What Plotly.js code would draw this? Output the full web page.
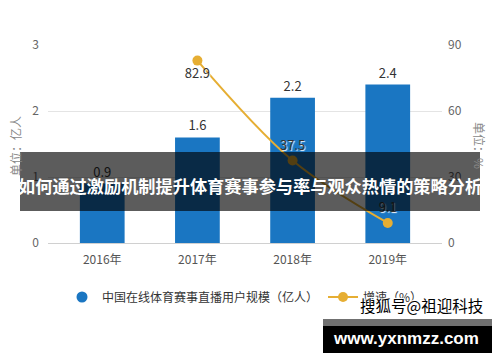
<!DOCTYPE html>
<html>
<head>
<meta charset="utf-8">
<script src="https://cdn.plot.ly/plotly-3.0.1.min.js"></script>
<style>html,body{margin:0;padding:0;background:#fff;}#chart{width:500px;height:362px;}</style>
</head>
<body>
<div id="chart"></div>
<script>
// ---- data ----
var categories = ['2016年', '2017年', '2018年', '2019年'];
var userScale = [0.9, 1.6, 2.2, 2.4];            // 中国在线体育赛事直播用户规模（亿人）
var growthCategories = ['2017年', '2018年', '2019年'];
var growthRate = [82.9, 37.5, 9.1];              // 增速（%）
var seriesNames = ['中国在线体育赛事直播用户规模（亿人）', '增速（%）'];
var leftTicks = [0, 1, 2, 3];
var rightTicks = [0, 30, 60, 90];
var overlayTitle = '如何通过激励机制提升体育赛事参与率与观众热情的策略分析';
var yTitleLeft = '单位：亿人';
var yTitleRight = '单位：%';
var watermark1 = '搜狐号@祖迎科技';
var watermark2 = 'www.yxnmzz.com';

// ---- layout geometry (pixels) ----
var W = 500, H = 362, L = 48, R = 58, T = 45, B = 119;
var PW = W - L - R, PH = H - T - B;
function px(x) { return (x - L) / PW; }
function py(y) { return (H - B - y) / PH; }

var FONT = 'Noto Sans CJK SC, Noto Sans, sans-serif';
var BLUE = '#1a76c2', GOLD = '#e6ae33';

var traces = [
  {
    type: 'bar', x: categories, y: userScale, name: seriesNames[0],
    marker: { color: BLUE }, width: 0.47, showlegend: false,
    text: userScale.map(function (v) { return v.toFixed(1); }),
    textposition: 'outside', cliponaxis: false,
    textfont: { family: FONT, size: 13, color: '#333' },
    hoverinfo: 'x+y'
  },
  {
    type: 'scatter', x: [null], y: [null], mode: 'markers', name: seriesNames[0],
    marker: { color: BLUE, size: 11, symbol: 'circle' }, showlegend: true, hoverinfo: 'skip'
  },
  {
    type: 'scatter', x: growthCategories, y: growthRate, yaxis: 'y2', name: seriesNames[1],
    mode: 'lines+markers+text',
    line: { color: GOLD, width: 2, shape: 'spline' },
    marker: { color: GOLD, size: 10 },
    text: growthRate.map(function (v) { return v.toFixed(1); }),
    textposition: ['bottom center', 'top center', 'top center'],
    textfont: { family: FONT, size: 13, color: '#333', shadow: '1px 1px 1px #fff' },
    cliponaxis: false
  }
];

var layout = {
  width: W, height: H,
  margin: { l: L, r: R, t: T, b: B, pad: 0 },
  paper_bgcolor: '#fff', plot_bgcolor: '#fff',
  font: { family: FONT, size: 12, color: '#555' },
  bargap: 0.5,
  xaxis: {
    type: 'category', range: [-0.57, 3.57], showgrid: false,
    showline: true, linecolor: '#d0d0d0', linewidth: 1, ticks: '',
    tickfont: { family: FONT, size: 12, color: '#555' }, ticklabelstandoff: 6,
    fixedrange: true
  },
  yaxis: {
    range: [0, 3], tickvals: leftTicks, showgrid: true, gridcolor: '#e4e4e4',
    zeroline: false, showline: false, ticks: '',
    tickfont: { family: FONT, size: 12, color: '#666' }, ticklabelstandoff: 8,
    fixedrange: true
  },
  yaxis2: {
    overlaying: 'y', side: 'right', range: [0, 90], tickvals: rightTicks,
    showgrid: false, zeroline: false, showline: false, ticks: '',
    tickfont: { family: FONT, size: 12, color: '#666' }, ticklabelstandoff: 5,
    fixedrange: true
  },
  showlegend: true,
  legend: {
    orientation: 'h', x: px(62), xanchor: 'left', y: py(297), yanchor: 'middle',
    font: { family: FONT, size: 12, color: '#333' }, itemwidth: 30,
    bgcolor: 'rgba(0,0,0,0)', traceorder: 'normal'
  },
  shapes: [
    { type: 'rect', xref: 'paper', yref: 'paper', layer: 'above',
      x0: px(20), x1: px(480), y0: py(211), y1: py(152),
      fillcolor: 'rgba(0,0,0,0.64)', line: { width: 0 } },
    { type: 'rect', xref: 'paper', yref: 'paper', layer: 'above',
      x0: px(323), x1: px(492), y0: py(326), y1: py(319),
      fillcolor: '#707070', line: { width: 0 } },
    { type: 'rect', xref: 'paper', yref: 'paper', layer: 'above',
      x0: px(323), x1: px(492), y0: py(353), y1: py(326),
      fillcolor: '#000', line: { width: 0 } }
  ],
  annotations: [
    { text: yTitleLeft, xref: 'paper', yref: 'paper', x: px(15), y: py(146),
      xanchor: 'center', yanchor: 'middle', textangle: -90, showarrow: false,
      font: { family: FONT, size: 12, color: '#888' } },
    { text: yTitleRight, xref: 'paper', yref: 'paper', x: px(480), y: py(145),
      xanchor: 'center', yanchor: 'middle', textangle: 90, showarrow: false,
      font: { family: FONT, size: 12, color: '#888' } },
    { text: overlayTitle, xref: 'paper', yref: 'paper', x: px(250), y: py(185),
      xanchor: 'center', yanchor: 'middle', showarrow: false,
      font: { family: FONT, size: 17.2, color: '#fff', weight: 'bold' } },
    { text: watermark1, xref: 'paper', yref: 'paper', x: px(421), y: py(305),
      xanchor: 'center', yanchor: 'middle', showarrow: false,
      font: { family: FONT, size: 15.5, color: '#000', shadow: '1px 1px 1px #fff, -1px -1px 1px #fff, 1px -1px 1px #fff, -1px 1px 1px #fff' } },
    { text: watermark2, xref: 'paper', yref: 'paper', x: px(405.5), y: py(338),
      xanchor: 'center', yanchor: 'middle', showarrow: false,
      font: { family: 'Liberation Sans, Arial, sans-serif', size: 17, color: '#fff', weight: 'bold' } }
  ]
};

Plotly.newPlot('chart', traces, layout, { displayModeBar: false, staticPlot: true });
</script>
</body>
</html>
